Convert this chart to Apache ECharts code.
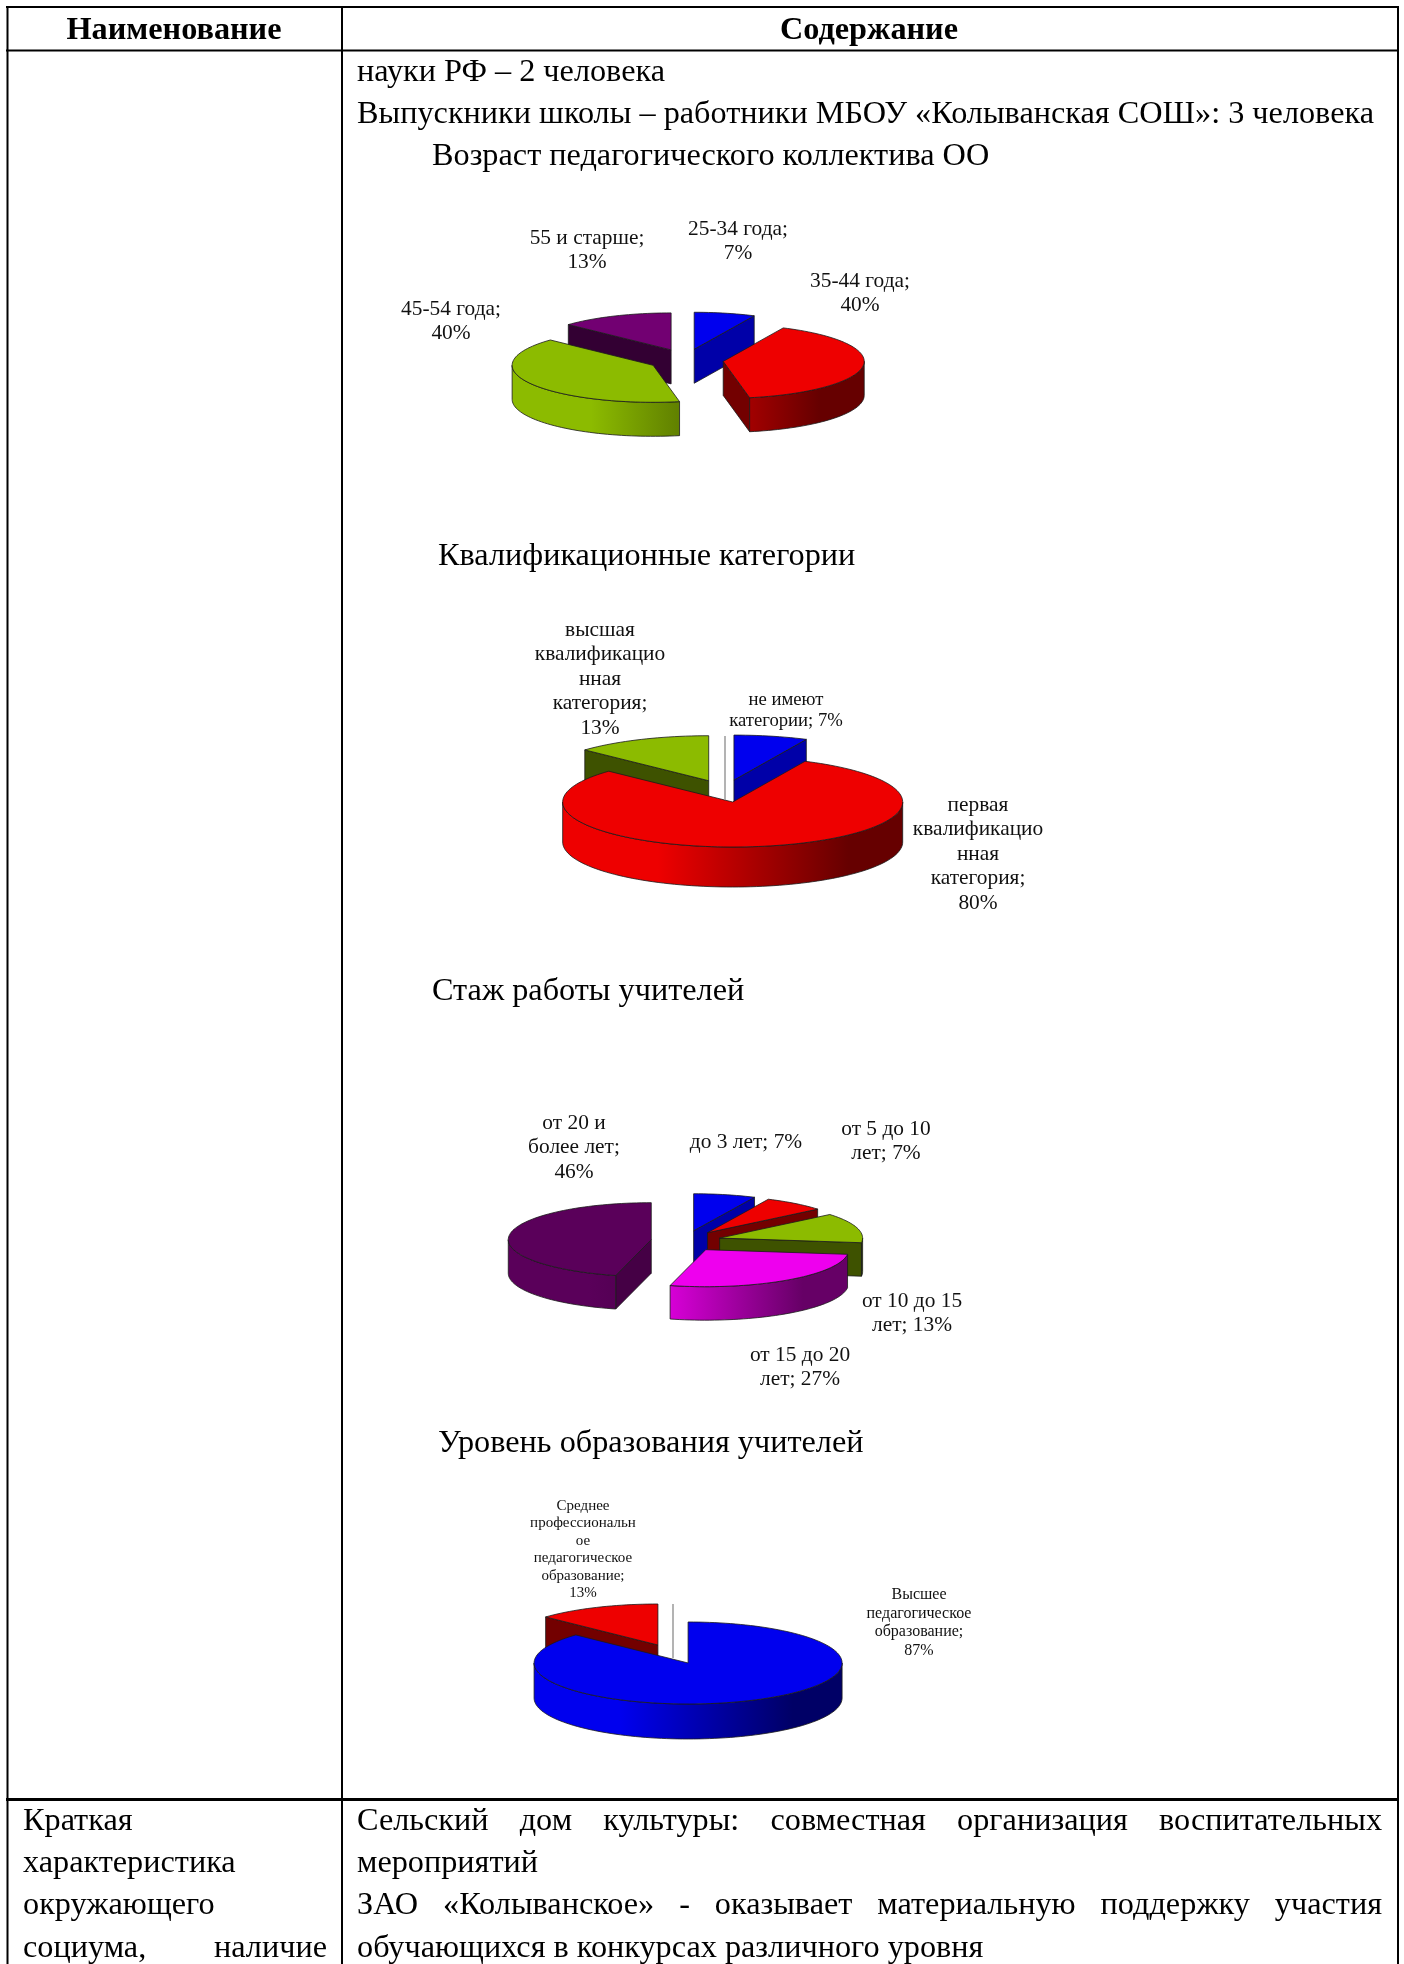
<!DOCTYPE html>
<html>
<head>
<meta charset="utf-8">
<title>Педагогический коллектив</title>
<script src="https://cdn.jsdelivr.net/npm/echarts@6/dist/echarts.min.js"></script>
<style>
  html, body { margin: 0; padding: 0; background: #fff; }
  #page { width: 1404px; height: 1964px; }
</style>
</head>
<body>
<div id="page"></div>
<script>
// --- данные диаграмм ---
const ageValues = [7, 40, 40, 13];
const ageLabels = ['25-34 года;\n7%', '35-44 года;\n40%', '45-54 года;\n40%', '55 и старше;\n13%'];

const categoryValues = [7, 80, 13];
const categoryLabels = ['не имеют\nкатегории; 7%', 'первая\nквалификацио\nнная\nкатегория;\n80%', 'высшая\nквалификацио\nнная\nкатегория;\n13%'];

const tenureValues = [7, 7, 13, 27, 46];
const tenureLabels = ['до 3 лет; 7%', 'от 5 до 10\nлет; 7%', 'от 10 до 15\nлет; 13%', 'от 15 до 20\nлет; 27%', 'от 20 и\nболее лет;\n46%'];

const educationValues = [87, 13];
const educationLabels = ['Высшее\nпедагогическое\nобразование;\n87%', 'Среднее\nпрофессиональн\nое\nпедагогическое\nобразование;\n13%'];

// --- цвета: верх, тёмный край боковины, срез ---
const BLUE = ['#0000ee', '#000066', '#0000a8'];
const RED = ['#ee0000', '#660000', '#730000'];
const GREEN = ['#8cbb00', '#3e5200', '#3e5200'];
const PURPLE = ['#720072', '#330033', '#330033'];
const MAGENTA = ['#ee00ee', '#660066', '#660066'];
const DARK_PURPLE = ['#5a005a', '#3c003c', '#450045'];

const SERIF = '"Liberation Serif", "Times New Roman", serif';

// cx, cy - центр, rx/ry - эллипс, depth - высота, ex/ey - вынос секторов
const pies = [
    { values: ageValues, labels: ageLabels, colors: [BLUE, RED, GREEN, PURPLE],
      cx: 686, cy: 360, rx: 141, ry: 37, depth: 34, ex: 37.5, ey: 11,
      fonts: [21.4, 21.4, 21.4, 21.4], lineH: [24.5, 24.5, 24.5, 24.5],
      labelPos: [[738, 229], [860, 281], [451, 309], [587, 238]] },
    { values: categoryValues, labels: categoryLabels, colors: [BLUE, RED, GREEN],
      cx: 725, cy: 791, rx: 170, ry: 45, depth: 40, ex: 41, ey: 11.2, seam: [736, 800],
      fonts: [18.7, 21.4, 21.4], lineH: [21.5, 24.5, 24.5],
      labelPos: [[786, 700], [978, 805], [600, 630]] },
    { values: tenureValues, labels: tenureLabels, colors: [BLUE, RED, GREEN, MAGENTA, DARK_PURPLE],
      cx: 686, cy: 1241, rx: 143, ry: 37, depth: 33.5, ex: 35, ey: 10.5,
      fonts: [21.4, 21.4, 21.4, 21.4, 21.4], lineH: [24.5, 24.5, 24.5, 24.5, 24.5],
      labelPos: [[746, 1142], [886, 1129], [912, 1301], [800, 1355], [574, 1123]] },
    { values: educationValues, labels: educationLabels, colors: [BLUE, RED],
      cx: 673, cy: 1654, rx: 154, ry: 41, depth: 35, ex: 38, ey: 9.8, seam: [1604, 1658],
      fonts: [16, 15], lineH: [18.5, 17.4],
      labelPos: [[919, 1595], [583, 1506]] }
];

const RAD = Math.PI / 180;

// точки дуги эллипса, угол считается по часовой от верха
function arc(x, y, pie, a0, a1) {
    const pts = [];
    const n = Math.max(2, Math.ceil((a1 - a0) / 2));
    for (let i = 0; i <= n; i++) {
        const a = (a0 + (a1 - a0) * i / n) * RAD;
        pts.push([x + pie.rx * Math.sin(a), y - pie.ry * Math.cos(a)]);
    }
    return pts;
}

function poly(points, fill, z2) {
    return { type: 'polygon', z2, shape: { points },
        style: { fill, stroke: '#1a1a1a', lineWidth: 0.8, lineJoin: 'round' } };
}

function renderSlice(pie, params, api) {
    const i = params.dataIndex;
    const total = pie.values.reduce((a, b) => a + b, 0);
    const before = pie.values.slice(0, i).reduce((a, b) => a + b, 0);
    const a0 = before / total * 360;
    const a1 = (before + api.value(0)) / total * 360;
    const mid = (a0 + a1) / 2;

    // вынос сектора от центра
    const x = pie.cx + pie.ex * Math.sin(mid * RAD);
    const y = pie.cy - pie.ey * Math.cos(mid * RAD);
    const [top, dark, cut] = pie.colors[i];
    const base = -Math.abs(180 - mid) * 10;   // задние секторы рисуем раньше
    const children = [];
    const drop = p => [p[0], p[1] + pie.depth];

    const cutWall = a => {
        const r = arc(x, y, pie, a, a + 0.001)[0];
        children.push(poly([[x, y], r, drop(r), [x, y + pie.depth]], cut, base));
    };
    if (a0 > 180 && a0 < 360) cutWall(a0);
    if (a1 > 0 && a1 < 180) cutWall(a1);

    const w0 = Math.max(a0, 90), w1 = Math.min(a1, 270);
    if (w1 > w0) {
        const rim = arc(x, y, pie, w0, w1);
        const fill = new echarts.graphic.LinearGradient(x - pie.rx, 0, x + pie.rx, 0, [
            { offset: 0.28, color: top }, { offset: 0.84, color: dark }, { offset: 1, color: dark }
        ], true);
        children.push(poly(rim.concat(rim.map(drop).reverse()), fill, base + 1));
    }
    children.push(poly([[x, y]].concat(arc(x, y, pie, a0, a1)), top, base + 2));

    const [lx, ly] = pie.labelPos[i];
    const fs = pie.fonts[i], lh = pie.lineH[i];
    children.push({ type: 'text', x: lx, y: ly - lh / 2, z2: 5000, style: {
        text: pie.labels[i], align: 'center', verticalAlign: 'top', fill: '#111',
        font: fs + 'px ' + SERIF, lineHeight: lh } });
    return { type: 'group', children };
}

// --- текст документа ---
const ruler = document.createElement('canvas').getContext('2d');
const DOC_FONT = '32.25px ' + SERIF;

function text(str, x, y, opt) {
    return Object.assign({ type: 'text', x, y, silent: true, style: Object.assign({
        text: str, fill: '#000', verticalAlign: 'middle', font: DOC_FONT
    }, opt || {}) });
}

// строка по ширине: слова раскидываем от x0 до x1
function justified(words, x0, x1, y) {
    ruler.font = DOC_FONT;
    const widths = words.map(w => ruler.measureText(w).width);
    const gap = (x1 - x0 - widths.reduce((a, b) => a + b, 0)) / (words.length - 1);
    let x = x0;
    return words.map((w, i) => {
        const el = text(w, x, y);
        x += widths[i] + gap;
        return el;
    });
}

function rule(x1, y1, x2, y2, w) {
    return { type: 'line', silent: true, shape: { x1, y1, x2, y2 }, style: { stroke: '#000', lineWidth: w } };
}

const docText = [
    text('Наименование', 174, 31, { align: 'center', font: 'bold 32.25px ' + SERIF }),
    text('Содержание', 869, 31, { align: 'center', font: 'bold 32.25px ' + SERIF }),
    text('науки РФ – 2 человека', 357, 73),
    text('Выпускники школы – работники МБОУ «Колыванская СОШ»: 3 человека', 357, 115),
    text('Возраст педагогического коллектива ОО', 432, 157),
    text('Квалификационные категории', 438, 557),
    text('Стаж работы учителей', 432, 992),
    text('Уровень образования учителей', 438, 1444),
    text('Краткая', 23, 1822),
    text('характеристика', 23, 1864),
    text('окружающего', 23, 1906),
    text('социума,', 23, 1949),
    text('наличие', 327, 1949, { align: 'right' }),
    ...justified(['Сельский', 'дом', 'культуры:', 'совместная', 'организация', 'воспитательных'], 357, 1382, 1822),
    text('мероприятий', 357, 1864),
    ...justified(['ЗАО', '«Колыванское»', '-', 'оказывает', 'материальную', 'поддержку', 'участия'], 357, 1382, 1906),
    text('обучающихся в конкурсах различного уровня', 357, 1949)
];

const tableLines = [
    rule(6, 7, 1399, 7, 2),
    rule(6, 50.5, 1399, 50.5, 2),
    rule(6, 1799.5, 1399, 1799.5, 3),
    rule(7.5, 6, 7.5, 1964, 2),
    rule(342, 6, 342, 1964, 2),
    rule(1398, 6, 1398, 1964, 2)
];

// серая черта в зазоре между секторами
const seams = pies.filter(p => p.seam).map(p => ({
    type: 'line', silent: true, z: 3,
    shape: { x1: p.cx, y1: p.seam[0], x2: p.cx, y2: p.seam[1] },
    style: { stroke: '#9a9a9a', lineWidth: 1.5 }
}));

const chart = echarts.init(document.getElementById('page'), null, { renderer: 'canvas' });
chart.setOption({
    animation: false,
    backgroundColor: '#fff',
    graphic: { elements: [...tableLines, ...docText, ...seams] },
    series: pies.map(pie => ({
        type: 'custom',
        coordinateSystem: 'none',
        silent: true,
        data: pie.values.map(v => [v]),
        renderItem: (params, api) => renderSlice(pie, params, api)
    }))
});
</script>
</body>
</html>
